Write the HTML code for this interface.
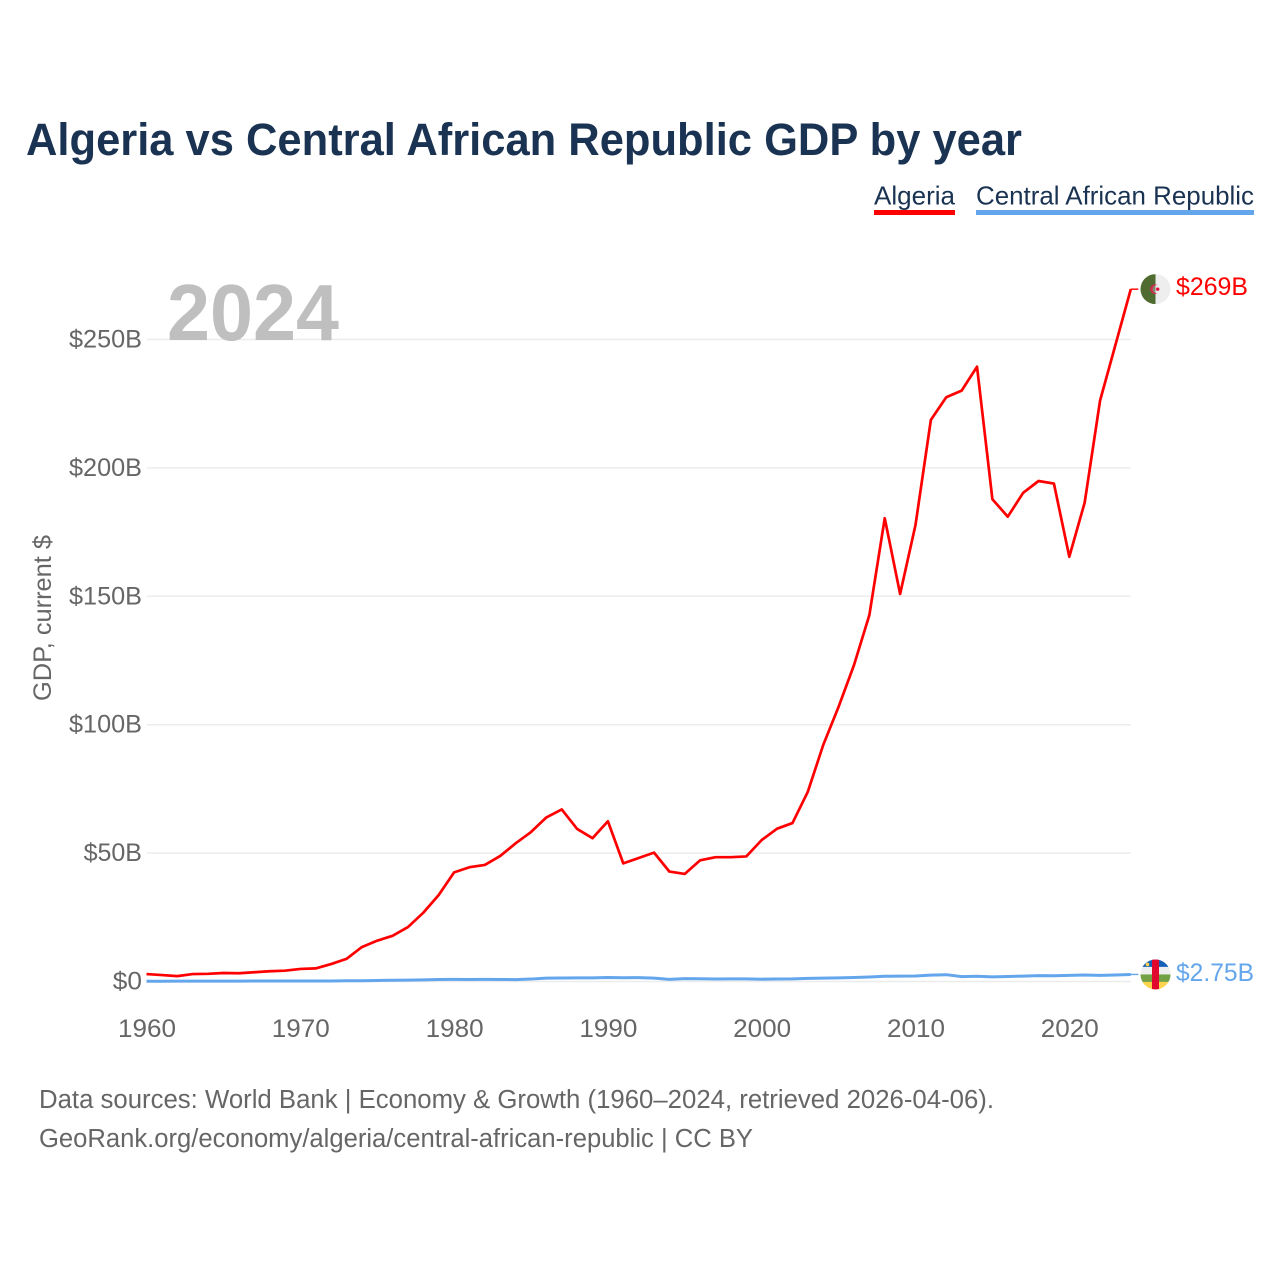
<!DOCTYPE html>
<html lang="en">
<head>
<meta charset="utf-8">
<title>Algeria vs Central African Republic GDP by year</title>
<style>
html,body{margin:0;padding:0;background:#fff;width:1280px;height:1280px;overflow:hidden}
svg{display:block;font-family:"Liberation Sans",sans-serif}
</style>
</head>
<body>
<svg id="chart" width="1280" height="1280" viewBox="0 0 1280 1280">
  <defs>
    <clipPath id="flag-clip-dz"><circle cx="0" cy="0" r="15"/></clipPath>
    <clipPath id="flag-clip-cf"><circle cx="0" cy="0" r="15"/></clipPath>
  </defs>
  <text x="26" y="155" font-size="45" font-weight="700" fill="#1a3352" textLength="996" lengthAdjust="spacingAndGlyphs">Algeria vs Central African Republic GDP by year</text>

  <g>
    <g>
      <text x="874" y="204.5" font-size="26" fill="#1a3352" textLength="81" lengthAdjust="spacingAndGlyphs">Algeria</text>
      <rect x="874" y="210" width="81" height="5" fill="#ff0000"/>
    </g>
    <g>
      <text x="976" y="204.5" font-size="26" fill="#1a3352" textLength="278" lengthAdjust="spacingAndGlyphs">Central African Republic</text>
      <rect x="976" y="210" width="278" height="5" fill="#63a6ec"/>
    </g>
  </g>

  <g id="grid"></g>
  <text x="167" y="340" font-size="80" font-weight="700" fill="#bfbfbf" textLength="172" lengthAdjust="spacingAndGlyphs">2024</text>
  <g id="yticks"></g>
  <g id="xticks"></g>
  <text transform="translate(51,618) rotate(-90)" text-anchor="middle" font-size="25" fill="#666666" textLength="166" lengthAdjust="spacingAndGlyphs">GDP, current $</text>
  <g id="series"></g>

  <g id="flag-dz">
    <g clip-path="url(#flag-clip-dz)">
      <rect x="-15" y="-15" width="15" height="30" fill="#4f6b2f"/>
      <rect x="0" y="-15" width="15" height="30" fill="#eeeeee"/>
      <circle cx="-0.5" cy="0" r="4.8" fill="#d8274f"/>
      <circle cx="0.8" cy="0" r="3.8" fill="#7f8a6c"/>
      <rect x="0" y="-4" width="5" height="8" fill="#eeeeee"/>
      <circle cx="2.2" cy="0" r="1.7" fill="#e0103a"/>
    </g>
  </g>
  <g id="flag-cf">
    <g clip-path="url(#flag-clip-cf)">
      <rect x="-15" y="-15" width="30" height="7.5" fill="#1560b8"/>
      <rect x="-15" y="-7.5" width="30" height="7.5" fill="#eeeeee"/>
      <rect x="-15" y="0" width="30" height="7.5" fill="#72a045"/>
      <rect x="-15" y="7.5" width="30" height="7.5" fill="#fcd34d"/>
      <rect x="-3.5" y="-15" width="7" height="30" fill="#e0082d"/>
      <circle cx="-8" cy="-10" r="1.8" fill="#fcd34d"/>
    </g>
  </g>
  <text id="label-dz" x="1176" font-size="25" fill="#ff0000" textLength="72" lengthAdjust="spacingAndGlyphs"></text>
  <text id="label-cf" x="1176" font-size="25" fill="#63a6ec" textLength="78" lengthAdjust="spacingAndGlyphs"></text>

  <text x="39" y="1108" font-size="25.5" fill="#666666" textLength="955" lengthAdjust="spacingAndGlyphs">Data sources: World Bank | Economy &amp; Growth (1960–2024, retrieved 2026-04-06).</text>
  <text x="39" y="1147" font-size="25.5" fill="#666666" textLength="714" lengthAdjust="spacingAndGlyphs">GeoRank.org/economy/algeria/central-african-republic | CC BY</text>
</svg>
<script>
const firstYear = 1960;
const yearTicks = [1960, 1970, 1980, 1990, 2000, 2010, 2020];
const valueTicks = [0, 50, 100, 150, 200, 250];
const valueTickLabels = ["$0", "$50B", "$100B", "$150B", "$200B", "$250B"];
const algeriaEndLabel = "$269B";
const carEndLabel = "$2.75B";
const algeriaGdp = [
  2.9, 2.5, 2.1, 2.9, 3.0, 3.3, 3.2, 3.6, 4.0, 4.2,
  4.9, 5.1, 6.8, 8.8, 13.4, 15.9, 17.8, 21.2, 26.8, 33.7,
  42.5, 44.5, 45.4, 48.9, 53.8, 58.2, 63.9, 67.0, 59.4, 55.8,
  62.4, 46.0, 48.1, 50.2, 42.8, 41.9, 47.2, 48.4, 48.4, 48.7,
  55.1, 59.5, 61.7, 73.9, 92.1, 107.0, 123.2, 142.7, 180.4, 150.9,
  177.8, 218.7, 227.5, 230.1, 239.4, 187.8, 181.0, 190.3, 194.9, 193.9,
  165.4, 186.5, 226.2, 247.9, 269.6
];
const carGdp = [
  0.12, 0.12, 0.13, 0.14, 0.15, 0.16, 0.16, 0.17, 0.18, 0.19,
  0.19, 0.2, 0.22, 0.27, 0.3, 0.4, 0.47, 0.55, 0.65, 0.78,
  0.85, 0.8, 0.85, 0.78, 0.75, 0.95, 1.3, 1.35, 1.4, 1.4,
  1.55, 1.45, 1.5, 1.3, 0.85, 1.1, 1.05, 0.95, 1.0, 1.0,
  0.9, 0.95, 1.0, 1.2, 1.3, 1.4, 1.55, 1.75, 2.05, 2.1,
  2.15, 2.5, 2.65, 1.9, 2.05, 1.8, 1.95, 2.1, 2.3, 2.25,
  2.4, 2.55, 2.4, 2.55, 2.75
];

const NS = "http://www.w3.org/2000/svg";
function xScale(year) { return 146.5 + (year - 1960) * 15.38; }
function yScale(value) { return 981.5 - value * 2.568; }
function make(tag, parent) {
  const el = document.createElementNS(NS, tag);
  parent.appendChild(el);
  return el;
}

const grid = document.getElementById("grid");
const yticks = document.getElementById("yticks");
const xticks = document.getElementById("xticks");
const series = document.getElementById("series");

valueTicks.forEach(function (v, i) {
  const line = make("line", grid);
  
  
  line.setAttribute("x1", 147);
  line.setAttribute("x2", 1131);
  line.setAttribute("y1", yScale(v));
  line.setAttribute("y2", yScale(v));
  line.setAttribute("stroke", "#ececec");
  line.setAttribute("stroke-width", "1.5");

  const t = make("text", yticks);
  
  
  t.setAttribute("x", 142);
  t.setAttribute("y", yScale(v) + 8);
  t.setAttribute("text-anchor", "end");
  t.setAttribute("font-size", "25");
  t.setAttribute("fill", "#666666");
  t.setAttribute("textLength", valueTickLabels[i].length * 14.6);
  t.setAttribute("lengthAdjust", "spacingAndGlyphs");
  t.textContent = valueTickLabels[i];
});

yearTicks.forEach(function (y) {
  const t = make("text", xticks);
  
  
  t.setAttribute("x", xScale(y) + 0.5);
  t.setAttribute("y", 1037);
  t.setAttribute("text-anchor", "middle");
  t.setAttribute("font-size", "25");
  t.setAttribute("fill", "#666666");
  t.setAttribute("textLength", String(y).length * 14.5);
  t.setAttribute("lengthAdjust", "spacingAndGlyphs");
  t.textContent = String(y);
});

function pathFor(values) {
  return values.map(function (v, i) {
    return (i ? "L" : "M") + xScale(firstYear + i).toFixed(2) + " " + yScale(v).toFixed(2);
  }).join(" ");
}
function lastPoint(values) {
  return { x: xScale(firstYear + values.length - 1), y: yScale(values[values.length - 1]) };
}

const carLine = make("path", series);


carLine.setAttribute("d", pathFor(carGdp));
carLine.setAttribute("fill", "none");
carLine.setAttribute("stroke", "#63a6ec");
carLine.setAttribute("stroke-width", "3");
carLine.setAttribute("stroke-linejoin", "round");

const dzLine = make("path", series);


dzLine.setAttribute("d", pathFor(algeriaGdp));
dzLine.setAttribute("fill", "none");
dzLine.setAttribute("stroke", "#ff0000");
dzLine.setAttribute("stroke-width", "2.7");
dzLine.setAttribute("stroke-linejoin", "round");

const dzEnd = lastPoint(algeriaGdp);
const carEnd = lastPoint(carGdp);

const dzConn = make("line", series);


dzConn.setAttribute("x1", dzEnd.x);
dzConn.setAttribute("x2", dzEnd.x + 7.5);
dzConn.setAttribute("y1", dzEnd.y);
dzConn.setAttribute("y2", dzEnd.y);
dzConn.setAttribute("stroke", "#ff0000");
dzConn.setAttribute("stroke-width", "1.4");

const carConn = make("line", series);


carConn.setAttribute("x1", carEnd.x);
carConn.setAttribute("x2", carEnd.x + 7.5);
carConn.setAttribute("y1", carEnd.y);
carConn.setAttribute("y2", carEnd.y);
carConn.setAttribute("stroke", "#63a6ec");
carConn.setAttribute("stroke-width", "1.4");

document.getElementById("flag-dz").setAttribute("transform", "translate(1155.5," + dzEnd.y + ")");
document.getElementById("flag-cf").setAttribute("transform", "translate(1155.5," + carEnd.y + ")");

const dzLabel = document.getElementById("label-dz");
dzLabel.setAttribute("y", dzEnd.y + 6);
dzLabel.textContent = algeriaEndLabel;
const carLabel = document.getElementById("label-cf");
carLabel.setAttribute("y", carEnd.y + 6.5);
carLabel.textContent = carEndLabel;
</script>
</body>
</html>
